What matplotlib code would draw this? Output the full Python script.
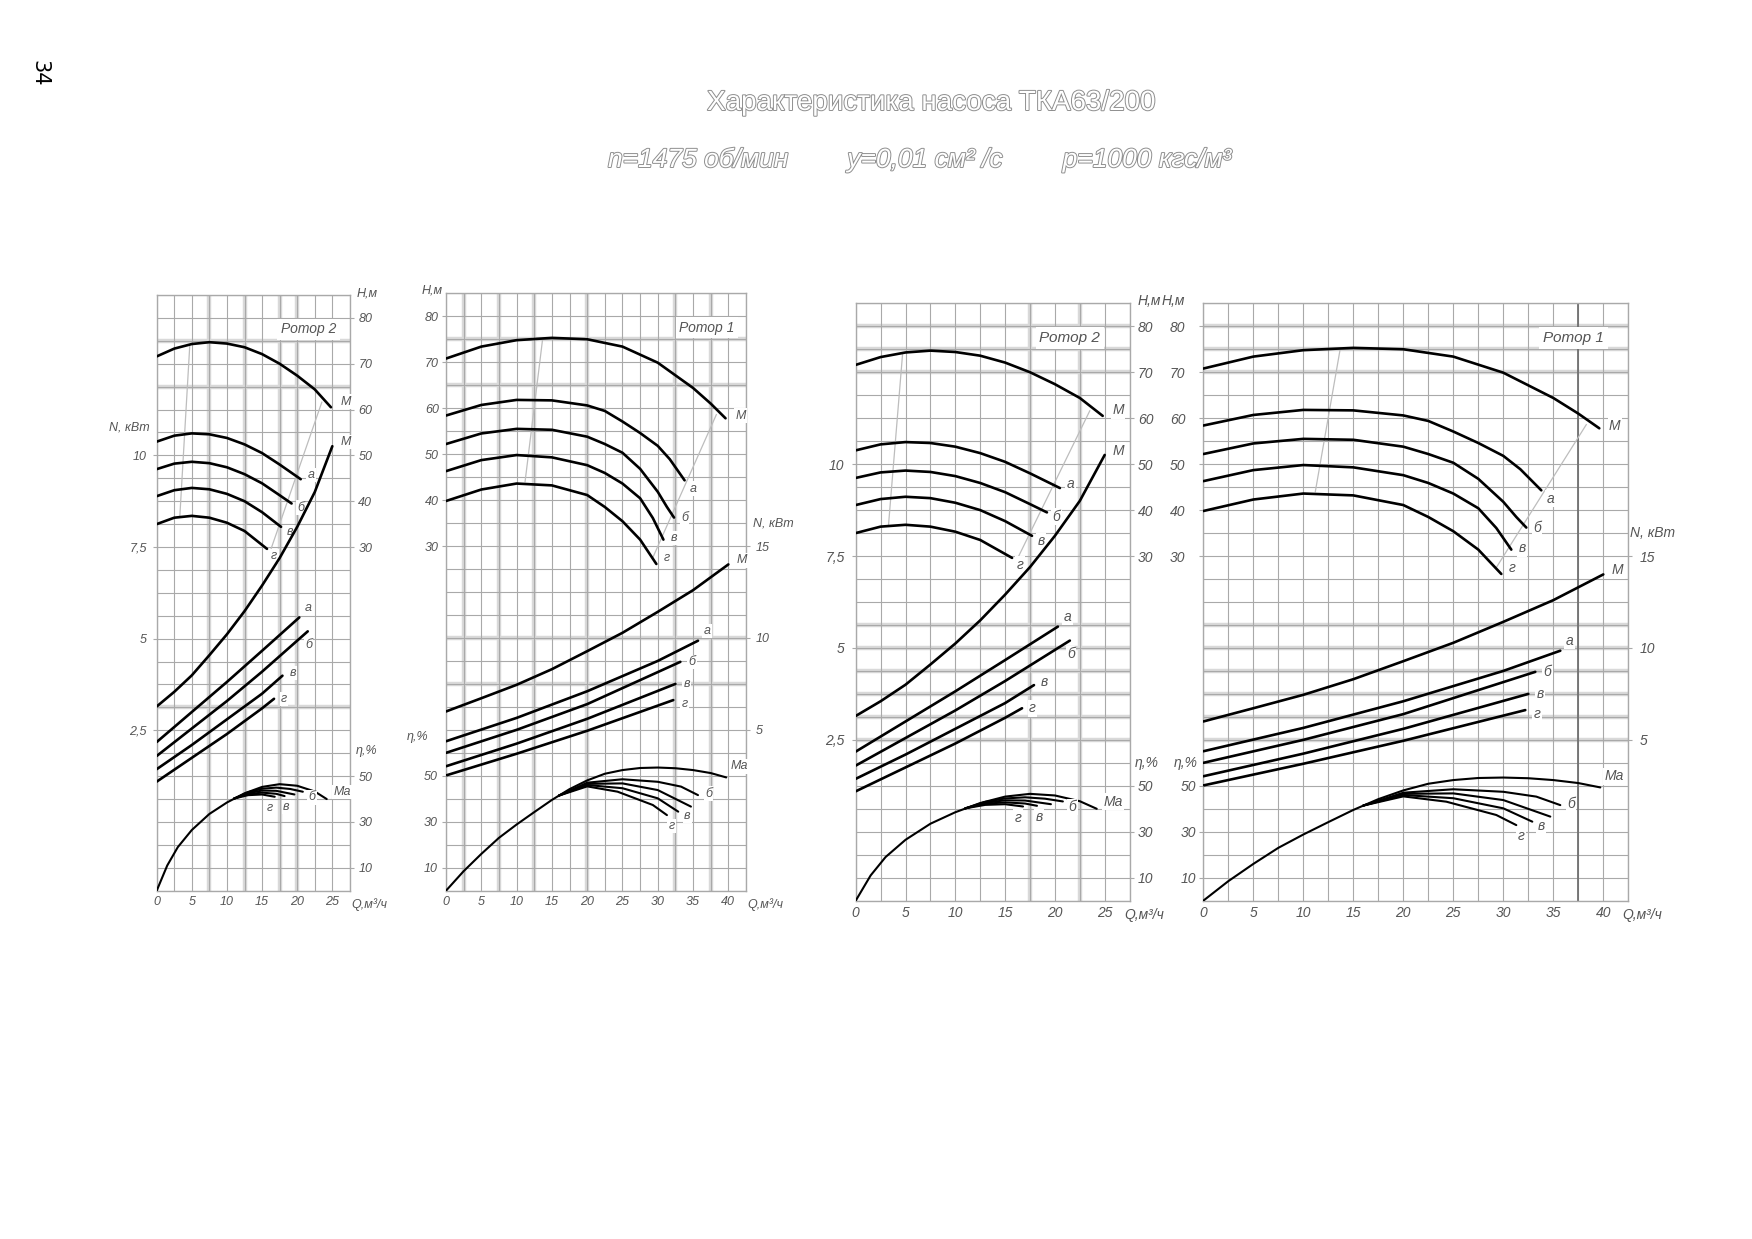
import numpy as np
import matplotlib
matplotlib.use("Agg")
import matplotlib.pyplot as plt
import matplotlib.patheffects as pe

plt.rcParams["font.family"] = ["Liberation Sans Narrow", "Liberation Sans", "DejaVu Sans"]
plt.rcParams["font.style"] = "italic"

# ---------------- Rotor 2 ----------------
# Q-H
r2_q_h_M = [0, 2.5, 5, 7.5, 10, 12.5, 15, 17.5, 20, 22.5, 24.8]
r2_h_M = [71.6, 73.3, 74.3, 74.7, 74.4, 73.6, 72.1, 70.0, 67.4, 64.4, 60.5]
r2_q_h_a = [0, 2.5, 5, 7.5, 10, 12.5, 15, 17.5, 20.5]
r2_h_a = [53.0, 54.3, 54.8, 54.6, 53.8, 52.4, 50.5, 48.0, 44.8]
r2_q_h_b = [0, 2.5, 5, 7.5, 10, 12.5, 15, 17.5, 19.2]
r2_h_b = [47.0, 48.2, 48.6, 48.3, 47.4, 45.9, 43.9, 41.3, 39.5]
r2_q_h_v = [0, 2.5, 5, 7.5, 10, 12.5, 15, 17.7]
r2_h_v = [41.1, 42.4, 42.9, 42.6, 41.6, 40.0, 37.6, 34.4]
r2_q_h_g = [0, 2.5, 5, 7.5, 10, 12.5, 15.7]
r2_h_g = [35.0, 36.4, 36.8, 36.4, 35.3, 33.5, 29.6]
# Q-N
r2_q_n_M = [0, 2.5, 5, 7.5, 10, 12.5, 15, 17.5, 20, 22.5, 25]
r2_n_M = [3.15, 3.55, 4.0, 4.55, 5.12, 5.75, 6.45, 7.2, 8.05, 9.0, 10.25]
r2_q_n_a = [0, 5, 10, 15, 20.3]
r2_n_a = [2.18, 3.0, 3.82, 4.67, 5.58]
r2_q_n_b = [0, 5, 10, 15, 21.5]
r2_n_b = [1.8, 2.55, 3.3, 4.1, 5.2]
r2_q_n_v = [0, 5, 10, 15, 17.9]
r2_n_v = [1.44, 2.1, 2.8, 3.5, 3.99]
r2_q_n_g = [0, 5, 10, 15, 16.7]
r2_n_g = [1.1, 1.75, 2.4, 3.1, 3.36]
# Q-eta
r2_q_e_M = [0, 1.5, 3, 5, 7.5, 10, 12.5, 15, 17.5, 20, 22.5, 24.2]
r2_e_M = [0, 11, 19, 26.5, 33.5, 38.5, 42.5, 45.3, 46.5, 45.8, 43.3, 40.0]
r2_q_e_a = [11, 13, 15, 17, 19, 20.8]
r2_e_a = [40.2, 43.0, 44.5, 45.0, 44.4, 43.2]
r2_q_e_b = [11, 13, 15, 17, 19.6]
r2_e_b = [40.2, 42.6, 43.7, 43.6, 42.0]
r2_q_e_v = [11, 13, 15, 17, 18.2]
r2_e_v = [40.2, 42.2, 42.8, 42.3, 41.3]
r2_q_e_g = [11, 13, 15, 16.8]
r2_e_g = [40.2, 41.7, 42.0, 41.0]
# thin construction lines
r2_bep_q = [4.7, 3.3]
r2_bep_h = [73.8, 36.9]
r2_lim_q = [23.5, 16.3]
r2_lim_h = [61.6, 29.7]

# ---------------- Rotor 1 ----------------
r1_q_h_M = [0, 5, 10, 15, 20, 25, 30, 35, 37.5, 39.6]
r1_h_M = [70.8, 73.4, 74.8, 75.3, 75.0, 73.4, 69.9, 64.4, 61.0, 57.8]
r1_q_h_a = [0, 5, 10, 15, 20, 22.5, 25, 27.5, 30, 31.7, 33.8]
r1_h_a = [58.4, 60.7, 61.8, 61.7, 60.6, 59.4, 57.1, 54.6, 51.8, 48.9, 44.3]
r1_q_h_b = [0, 5, 10, 15, 20, 22.5, 25, 27.5, 30, 31.3, 32.3]
r1_h_b = [52.2, 54.5, 55.5, 55.3, 53.8, 52.2, 50.3, 46.8, 41.8, 38.5, 36.2]
r1_q_h_v = [0, 5, 10, 15, 20, 22.5, 25, 27.5, 29.3, 30.8]
r1_h_v = [46.3, 48.7, 49.8, 49.3, 47.6, 45.9, 43.6, 40.4, 36.1, 31.4]
r1_q_h_g = [0, 5, 10, 15, 20, 22.5, 25, 27.5, 29.8]
r1_h_g = [39.8, 42.3, 43.6, 43.2, 41.1, 38.5, 35.4, 31.4, 26.1]
r1_q_n_M = [0, 5, 10, 15, 20, 25, 30, 35, 40]
r1_n_M = [6.0, 6.72, 7.45, 8.3, 9.28, 10.28, 11.42, 12.6, 14.0]
r1_q_n_a = [0, 10, 20, 30, 35.7]
r1_n_a = [4.38, 5.65, 7.1, 8.75, 9.85]
r1_q_n_b = [0, 10, 20, 33.2]
r1_n_b = [3.75, 5.0, 6.4, 8.7]
r1_q_n_v = [0, 10, 20, 32.5]
r1_n_v = [3.02, 4.25, 5.6, 7.5]
r1_q_n_g = [0, 10, 20, 32.2]
r1_n_g = [2.52, 3.7, 4.95, 6.62]
r1_q_e_M = [0, 2.5, 5, 7.5, 10, 12.5, 15, 17.5, 20, 22.5, 25, 27.5, 30, 32.5, 35, 37.5, 39.7]
r1_e_M = [0, 8.5, 16, 23, 28.8, 34.2, 39.5, 44.2, 48, 50.9, 52.5, 53.4, 53.6, 53.3, 52.5, 51.2, 49.3]
r1_q_e_a = [16, 20, 25, 30, 33.3, 35.7]
r1_e_a = [41.4, 47.0, 48.5, 47.4, 45.3, 41.6]
r1_q_e_b = [16, 20, 25, 30, 34.7]
r1_e_b = [41.4, 46.5, 46.7, 43.8, 36.6]
r1_q_e_v = [16, 20, 25, 30, 32.9]
r1_e_v = [41.4, 46.0, 44.6, 40.2, 34.4]
r1_q_e_g = [16, 20, 24.3, 29.3, 31.3]
r1_e_g = [41.4, 45.4, 43.1, 37.3, 32.9]
r1_bep_q = [13.7, 11.2]
r1_bep_h = [75.2, 44.0]
r1_lim_q = [38.3, 29.3]
r1_lim_h = [58.6, 27.5]

h_ticks = [30, 40, 50, 60, 70, 80]
e_ticks = [10, 30, 50]

ROTOR2 = dict(
    qh=[(r2_q_h_M, r2_h_M, "М"), (r2_q_h_a, r2_h_a, "а"), (r2_q_h_b, r2_h_b, "б"),
        (r2_q_h_v, r2_h_v, "в"), (r2_q_h_g, r2_h_g, "г")],
    qn=[(r2_q_n_M, r2_n_M, "М"), (r2_q_n_a, r2_n_a, "а"), (r2_q_n_b, r2_n_b, "б"),
        (r2_q_n_v, r2_n_v, "в"), (r2_q_n_g, r2_n_g, "г")],
    qe=[(r2_q_e_M, r2_e_M, "Ма"), (r2_q_e_a, r2_e_a, "б"), (r2_q_e_b, r2_e_b, ""),
        (r2_q_e_v, r2_e_v, "в"), (r2_q_e_g, r2_e_g, "г")],
    bep=(r2_bep_q, r2_bep_h), lim=(r2_lim_q, r2_lim_h),
    off_h={"М": (7, 4), "а": (5, 3), "б": (4, -3), "в": (4, -4), "г": (3, -5)},
    off_n={"М": (6, 3), "а": (4, 7), "б": (-2, -10), "в": (5, 2), "г": (5, 0)},
    off_e={"Ма": (5, 5), "б": (4, -4), "": (0, 0), "в": (-1, -8), "г": (-6, -8)},
)
ROTOR1 = dict(
    qh=[(r1_q_h_M, r1_h_M, "М"), (r1_q_h_a, r1_h_a, "а"), (r1_q_h_b, r1_h_b, "б"),
        (r1_q_h_v, r1_h_v, "в"), (r1_q_h_g, r1_h_g, "г")],
    qn=[(r1_q_n_M, r1_n_M, "М"), (r1_q_n_a, r1_n_a, "а"), (r1_q_n_b, r1_n_b, "б"),
        (r1_q_n_v, r1_n_v, "в"), (r1_q_n_g, r1_n_g, "г")],
    qe=[(r1_q_e_M, r1_e_M, "Ма"), (r1_q_e_a, r1_e_a, "б"), (r1_q_e_b, r1_e_b, ""),
        (r1_q_e_v, r1_e_v, "в"), (r1_q_e_g, r1_e_g, "г")],
    bep=(r1_bep_q, r1_bep_h), lim=(r1_lim_q, r1_lim_h),
    off_h={"М": (7, 2), "а": (4, -6), "б": (5, 0), "в": (5, 1), "г": (5, 4)},
    off_n={"М": (6, 3), "а": (4, 7), "б": (6, 0), "в": (6, 0), "г": (6, -3)},
    off_e={"Ма": (3, 8), "б": (5, 1), "": (0, 0), "в": (4, -3), "г": (1, -8)},
)

W, H = 1752, 1239
GRID = "#a9a9a9"
THICK = "#d9d9d9"
TXT = "#555555"

fig = plt.figure(figsize=(W / 100, H / 100), dpi=100)
fig.patch.set_facecolor("white")


def fmt(v):
    return f"{v:g}".replace(".", ",")


def panel(box, rot, qmax, n_step, n_ticks, h_side, n_side, e_side, fs, pads,
          name, name_q, labels, thick_q=(), thick_h=(), dark_q=()):
    x0, x1, top, bot = box
    ax = fig.add_axes([x0 / W, 1 - bot / H, (x1 - x0) / W, (bot - top) / H])
    ax_n = ax.twinx()
    ax_e = ax.twinx()

    # main axes: Q and H, carries the grid (5 m x 2.5 m3/h cells)
    ax.set_xlim(0, qmax)
    ax.set_ylim(-45, 85)
    ax.set_axisbelow(True)
    ax.set_xticks(np.arange(0, qmax, 5))
    ax.set_xticklabels([fmt(v) for v in np.arange(0, qmax, 5)])
    ax.set_xticks(np.arange(0, qmax + 0.01, 2.5), minor=True)
    ax.set_yticks(h_ticks)
    ax.set_yticks(np.arange(-45, 86, 5), minor=True)
    ax.grid(which="both", color=GRID, lw=0.8)
    ax.tick_params(which="minor", length=0)
    ax.tick_params(axis="x", which="major", length=0, pad=4, labelsize=fs, labelcolor=TXT)
    for sp in ax.spines.values():
        sp.set_color(GRID)
        sp.set_linewidth(1.0)
    for q in thick_q:
        ax.axvline(q, color=THICK, lw=3.2, zorder=0.3)
    for hv in thick_h:
        ax.axhline(hv, color=THICK, lw=3.2, zorder=0.3)
    for q in dark_q:
        ax.axvline(q, color="#707070", lw=1.3, zorder=0.6)

    ax_n.set_ylim(-3 * n_step, 23 * n_step)
    ax_n.set_yticks(n_ticks)
    ax_n.set_yticklabels([fmt(v) for v in n_ticks])
    ax_e.set_ylim(0, 260)
    ax_e.set_yticks(e_ticks)

    for a, side, pad in ((ax, h_side, pads[0]), (ax_n, n_side, pads[1]), (ax_e, e_side, pads[2])):
        if side == "left":
            a.yaxis.tick_left()
        else:
            a.yaxis.tick_right()
        a.tick_params(axis="y", which="major", length=3, width=0.8, color=GRID,
                      pad=pad, labelsize=fs, labelcolor=TXT)
    for a in (ax_n, ax_e):
        for sp in a.spines.values():
            sp.set_visible(False)

    # construction lines
    ax.plot(*rot["bep"], color="#bdbdbd", lw=0.9, zorder=2)
    ax.plot(*rot["lim"], color="#bdbdbd", lw=0.9, zorder=2)

    lab_kw = dict(textcoords="offset points", ha="left", va="center", fontsize=fs,
                  color=TXT, bbox=dict(boxstyle="square,pad=0.1", fc="white", ec="none"))
    for q, v, key in rot["qh"]:
        ax.plot(q, v, color="black", lw=1.9, solid_capstyle="round", zorder=3)
        ax.annotate(key, xy=(q[-1], v[-1]), xytext=rot["off_h"][key], zorder=4, **lab_kw)
    for q, v, key in rot["qn"]:
        ax_n.plot(q, v, color="black", lw=1.9, solid_capstyle="round")
        ax_n.annotate(key, xy=(q[-1], v[-1]), xytext=rot["off_n"][key], **lab_kw)
    for q, v, key in rot["qe"]:
        ax_e.plot(q, v, color="black", lw=1.5, solid_capstyle="round")
        if key:
            ax_e.annotate(key, xy=(q[-1], v[-1]), xytext=rot["off_e"][key], **lab_kw)

    ax.text(name_q, 77.5, name, fontsize=fs + 1, color=TXT, ha="center", va="center",
            zorder=5, bbox=dict(boxstyle="square,pad=0.25", fc="white", ec="none"))

    # axis captions: (text, x frac, row, dx, dy, ha)
    for text, xf, row, dx, dy, ha in labels:
        ax.annotate(text, xy=(xf, row / 26), xycoords="axes fraction", xytext=(dx, dy),
                    textcoords="offset points", ha=ha, va="center", fontsize=fs, color=TXT)


panel((156.7, 349.9, 295.0, 890.7), ROTOR2, 27.5, 0.625, [2.5, 5, 7.5, 10],
      "right", "left", "right", 9, (3, 4, 3), "Ротор 2", 21.6,
      [("H,м", 1, 26, 5, 1, "left"), ("N, кВт", 0, 20.2, -5, 0, "right"),
       ("η,%", 1, 6.1, 4, 0, "left"), ("Q,м³/ч", 1, 0, 1, -10, "left")],
      thick_q=(7.5, 12.5, 17.5, 20), thick_h=(75, 65, -5))
panel((446.0, 746.0, 293.3, 890.7), ROTOR1, 42.5, 1.25, [5, 10, 15],
      "left", "right", "left", 9, (2, 4, 3), "Ротор 1", 37,
      [("H,м", 0, 26, -2, 2, "right"), ("N, кВт", 1, 16, 5, 0, "left"),
       ("η,%", 0, 6.7, -13, 0, "right"), ("Q,м³/ч", 1, 0, 1, -10, "left")],
      thick_q=(2.5, 7.5, 12.5, 20, 32.5, 37.5), thick_h=(75, 65, 10, 0))
panel((855.7, 1129.6, 303.3, 900.7), ROTOR2, 27.5, 0.625, [2.5, 5, 7.5, 10],
      "right", "left", "right", 10, (3, 5, 3), "Ротор 2", 21.5,
      [("H,м", 1, 26, 6, 2, "left"), ("η,%", 1, 6, 4, 0, "left"),
       ("Q,м³/ч", 1, 0, -4, -10, "left")],
      thick_q=(17.5, 22.5), thick_h=(80, 75, 70, 15, 10, 5, 0, -5, -10))
panel((1203.3, 1628.3, 303.3, 900.7), ROTOR1, 42.5, 1.25, [5, 10, 15],
      "left", "right", "left", 10, (10, 5, 2), "Ротор 1", 37,
      [("H,м", 0, 26, -13, 2, "right"), ("η,%", 0, 6, -4, 0, "right"),
       ("N, кВт", 1, 16, 1, 0, "left"), ("Q,м³/ч", 1, 0, -4, -10, "left")],
      thick_h=(80, 75, 70, 15, 10, 5, 0, -5, -10), dark_q=(37.5,))

# header
outline = [pe.withStroke(linewidth=1.4, foreground="#8e8e8e")]
fig.text(931 / W, 1 - 103 / H, "Характеристика насоса ТКА63/200", ha="center", va="center",
         fontsize=20, style="normal", family=["Liberation Sans", "DejaVu Sans"],
         color="white", path_effects=outline)
for xc, s in ((698, "n=1475 об/мин"), (925, "у=0,01 см² /с"), (1147, "р=1000 кгс/м³")):
    fig.text(xc / W, 1 - 160 / H, s, ha="center", va="center", fontsize=19,
             family=["Liberation Sans", "DejaVu Sans"], color="white", path_effects=outline)
fig.text(39 / W, 1 - 73 / H, "34", rotation=-90, ha="center", va="center", fontsize=15,
         style="normal", family=["DejaVu Sans"], color="black")

fig.savefig("out.png", dpi=100, facecolor="white")
